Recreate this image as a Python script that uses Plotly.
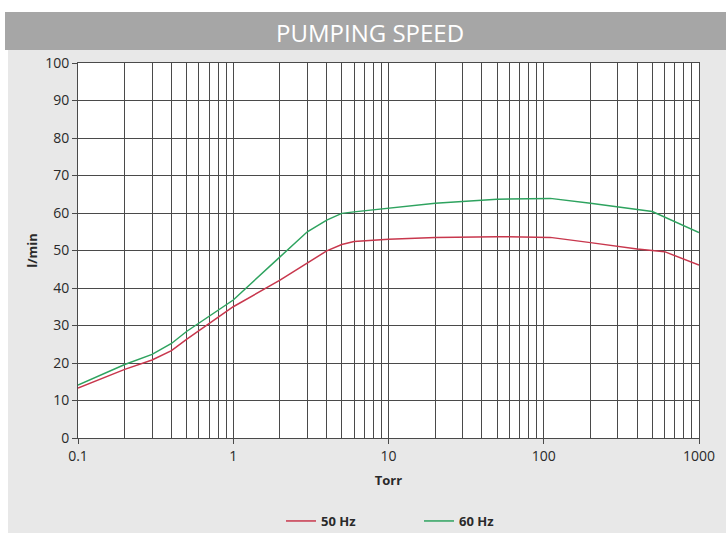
import plotly.graph_objects as go

torr_50 = [0.1, 0.2, 0.3, 0.4, 0.5, 0.7, 1, 2, 3, 4, 5, 6, 10, 20, 50, 110, 200, 400, 600, 1000]
speed_50 = [13.3, 18.3, 20.8, 23.3, 26.3, 30.6, 35.0, 42.1, 46.6, 49.9, 51.6, 52.4, 53.0, 53.5, 53.7, 53.5, 52.1, 50.4, 49.7, 46.1]

torr_60 = [0.1, 0.2, 0.3, 0.4, 0.5, 0.7, 1, 2, 3, 4, 5, 6, 10, 20, 50, 110, 200, 400, 500, 1000]
speed_60 = [14.1, 19.6, 22.3, 25.2, 28.4, 32.4, 36.8, 48.3, 55.0, 58.1, 59.9, 60.3, 61.2, 62.6, 63.7, 63.9, 62.6, 61.0, 60.4, 54.8]

x_major = [0.1, 1, 10, 100, 1000]
x_labels = ["0.1", "1", "10", "100", "1000"]
x_minor = [m * d for d in [0.1, 1, 10, 100] for m in range(2, 10)]
y_ticks = list(range(0, 101, 10))

W, H = 726, 533
L, R, T, B = 78, 27, 63, 95
pw, ph = W - L - R, H - T - B

def px(x):
    return (x - L) / pw

def py(y):
    return (H - B - y) / ph

FONT = "Open Sans"
GRID = "#4a4a4a"

fig = go.Figure()
fig.add_trace(go.Scatter(x=torr_50, y=speed_50, mode="lines", name="50 Hz",
                         line=dict(color="#c8374d", width=1.5)))
fig.add_trace(go.Scatter(x=torr_60, y=speed_60, mode="lines", name="60 Hz",
                         line=dict(color="#2ea35f", width=1.5)))

fig.update_layout(
    width=W, height=H,
    margin=dict(l=L, r=R, t=T, b=B, autoexpand=False),
    paper_bgcolor="#e8e8e8",
    plot_bgcolor="white",
    font=dict(family=FONT, size=13, color="#2a2a2a"),
    showlegend=True,
    legend=dict(orientation="h", x=px(281), xanchor="left", y=py(521), yanchor="middle",
                bgcolor="rgba(0,0,0,0)", font=dict(size=13, color="#2a2a2a", weight="bold"),
                itemwidth=30, entrywidth=93),
    xaxis=dict(type="log", range=[-1, 3], tickvals=x_major, ticktext=x_labels,
               showgrid=True, gridcolor=GRID, gridwidth=1,
               ticks="outside", ticklen=5, tickcolor=GRID,
               showline=True, linecolor=GRID, linewidth=1, mirror=True,
               minor=dict(tickvals=x_minor, showgrid=True, gridcolor=GRID, gridwidth=1, ticks=""),
               title=dict(text="<b>Torr</b>", font=dict(size=13), standoff=12),
               tickfont=dict(size=14), zeroline=False),
    yaxis=dict(range=[0, 100], tickvals=y_ticks,
               showgrid=True, gridcolor=GRID, gridwidth=1,
               ticks="outside", ticklen=5, tickcolor=GRID,
               showline=True, linecolor=GRID, linewidth=1, mirror=True,
               title=dict(text="<b>l/min</b>", font=dict(size=13), standoff=4),
               tickfont=dict(size=14), zeroline=False),
    shapes=[
        dict(type="rect", xref="paper", yref="paper", x0=px(-5), x1=px(W + 5), y0=py(-5), y1=py(12),
             fillcolor="white", line=dict(width=0), layer="above"),
        dict(type="rect", xref="paper", yref="paper", x0=px(-5), x1=px(8), y0=py(H + 5), y1=py(12),
             fillcolor="white", line=dict(width=0), layer="above"),
        dict(type="rect", xref="paper", yref="paper", x0=px(5), x1=px(W + 5), y0=py(50), y1=py(12),
             fillcolor="#a6a6a6", line=dict(width=0), layer="above"),
    ],
    annotations=[
        dict(text="PUMPING SPEED", xref="paper", yref="paper", x=px(370), y=py(32),
             xanchor="center", yanchor="middle", showarrow=False,
             font=dict(family=FONT, size=24, color="white")),
    ],
)

fig.write_html("out.html", config={"displayModeBar": False},
               post_script="document.body.style.margin='0';document.body.style.overflow='hidden';")
